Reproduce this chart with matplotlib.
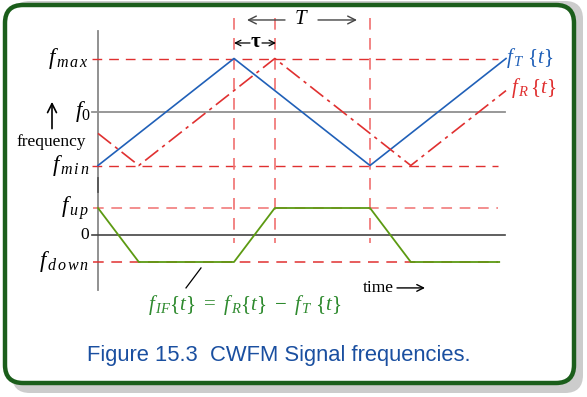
import matplotlib
matplotlib.use("Agg")
import matplotlib.pyplot as plt
from matplotlib.patches import FancyBboxPatch

plt.rcParams['mathtext.fontset'] = 'custom'
plt.rcParams['mathtext.rm'] = 'Liberation Serif'
plt.rcParams['mathtext.it'] = 'Liberation Serif:italic'
plt.rcParams['mathtext.bf'] = 'Liberation Serif:bold'
plt.rcParams['font.family'] = ['Liberation Serif', 'DejaVu Serif']

# time in units of T/2, frequencies normalised
tau = 0.3
t_tx = [0, 1, 2, 3]
f_tx = [-1, 1, -1, 1]
t_rx = [0, 0.3, 1.3, 2.3, 3.0]
f_rx = [-0.4, -1, 1, -1, 0.4]
t_if = [0, 0.3, 1, 1.3, 2, 2.3, 2.95]
f_if = [1, -1, -1, 1, 1, -1, -1]
t_marks = [1, 1.3, 2]

RED = '#e03030'
PINK = '#f07070'
BLUE = '#2060b8'
GREEN = '#5c9a12'
GTEXT = '#2e8a2e'

W, H = 587, 397
fig = plt.figure(figsize=(W / 100, H / 100), dpi=100)

# frame
bg = fig.add_axes([0, 0, 1, 1])
bg.set_xlim(0, W)
bg.set_ylim(H, 0)
bg.axis('off')
bg.add_patch(FancyBboxPatch((12, 1), 571, 392, boxstyle="round,pad=0,rounding_size=18",
                            fc='#cccccc', ec='none'))
bg.add_patch(FancyBboxPatch((5, 5), 569, 378, boxstyle="round,pad=0,rounding_size=18",
                            fc='white', ec='#1b5e1b', lw=3.2))
bg.text(279, 356, 'Figure 15.3  CWFM Signal frequencies.', family='Liberation Sans',
        fontsize=15.8, color='#1a4fa0', ha='center', va='center')

# pixel -> data helpers for the two panels
x0, sx = 98, 136.0
def tx(px):
    return (px - x0) / sx

def arrow(a, xy, xytext, color='black', lw=1, ms=12):
    a.annotate('', xy=xy, xytext=xytext,
               arrowprops=dict(arrowstyle='->', color=color, lw=lw, mutation_scale=ms,
                               shrinkA=0, shrinkB=0))

ax = fig.add_axes([0, 0, 1, 1], facecolor='none')
ax.set_xlim(tx(0), tx(W))
ax.set_ylim((112 - H) / 53.5, 112 / 53.5)
ax.axis('off')

ab = fig.add_axes([0, 0, 1, 1], facecolor='none')
ab.set_xlim(tx(0), tx(W))
ab.set_ylim((235 - H) / 27.0, 235 / 27.0)
ab.axis('off')

# top panel
ax.plot([0, 0], [1.51, -3.33], color='#888888', lw=1.3)
ax.plot([0, 0], [-1.23, -1.5], color='#555555', lw=1.3)
ax.plot([tx(92), 2.99], [0, 0], color='#909090', lw=1.3)
for fv in (1, -1):
    ax.plot([tx(92), 2.94], [fv, fv], color=RED, lw=1, dashes=(7, 5))
for tm in t_marks:
    ax.plot([tm, tm], [1.76, -2.45], color=PINK, lw=1.2, dashes=(7, 5))
ax.plot(t_tx, f_tx, color=BLUE, lw=1.2)
ax.plot(t_rx, f_rx, color=RED, lw=1.2, dashes=(10, 3, 2, 3))

ax.text(tx(89), 1.0, r'$f_{\,m\,a\,x}$', fontsize=16.5, ha='right', va='center')
ax.text(tx(91), 0.0, r'$f_0$', fontsize=16.5, ha='right', va='center')
ax.text(tx(89), -1.0, r'$f_{\,m\,i\,n}$', fontsize=16.5, ha='right', va='center')
ax.text(tx(51), -0.56, 'frequency', fontsize=12.5, ha='center', va='center')
arrow(ax, (tx(52), 0.19), (tx(52), -0.31), lw=1.2, ms=16)
ax.text(3.0, 1.0, r'$f_{\,T}\ \{t\}$', fontsize=15, color=BLUE, ha='left', va='center')
ax.text(3.04, 0.45, r'$f_{\,R}\,\{t\}$', fontsize=15, color=RED, ha='left', va='center')

# T and tau markers
ax.text(tx(301), 1.72, r'$T$', fontsize=15, ha='center', va='center')
arrow(ax, (tx(247), 1.72), (tx(285), 1.72), color='#444444', ms=14)
arrow(ax, (tx(357), 1.72), (tx(318), 1.72), color='#444444', ms=14)
ax.text(tx(256), 1.29, r'$\mathbf{\tau}$', fontsize=15, ha='center', va='center')
arrow(ax, (tx(234), 1.29), (tx(250), 1.29), lw=0.9, ms=10)
arrow(ax, (tx(276), 1.29), (tx(262), 1.29), lw=0.9, ms=10)

# bottom panel
ab.plot([tx(92), 2.99], [0, 0], color='#444444', lw=1.2)
for fv in (1, -1):
    ab.plot([tx(93), 2.94], [fv, fv], color=PINK if fv > 0 else RED,
            lw=1.1, dashes=(7, 5))
ab.plot(t_if, f_if, color=GREEN, lw=1.3)
ab.text(tx(89), 1.0, r'$f_{\,u\,p}$', fontsize=16.5, ha='right', va='center')
ab.text(tx(89), 0.0, '0', fontsize=12.5, ha='right', va='center')
ab.text(tx(89), -1.0, r'$f_{\,d\,o\,w\,n}$', fontsize=16.5, ha='right', va='center')
ab.plot([tx(186), tx(201)], [-1.96, -1.22], color='black', lw=0.9)
ab.text(tx(245), -2.6, r'$f_{\,IF}\{t\}\ =\ f_{\,R}\{t\}\ -\ f_{\,T}\ \{t\}$', fontsize=15,
        color=GTEXT, ha='center', va='center')
ab.text(tx(363), -1.96, 'time', fontsize=12.5, ha='left', va='center')
arrow(ab, (tx(425), -1.96), (tx(397), -1.96), ms=12)

fig.savefig('out.png', dpi=100)
